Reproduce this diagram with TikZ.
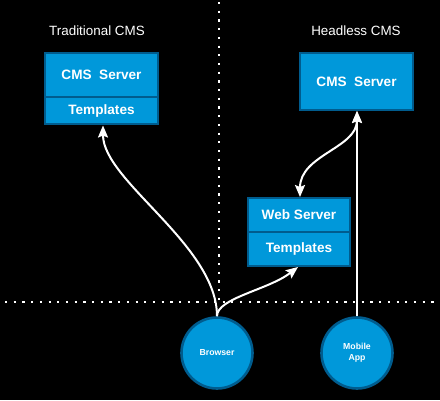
\documentclass[tikz,border=0pt]{standalone}
\usepackage{fontspec}
\setmainfont{Liberation Sans}
\usetikzlibrary{arrows.meta}
\definecolor{boxfill}{RGB}{0,152,218}
\definecolor{boxline}{RGB}{0,92,142}
\tikzset{
  blockbox/.style={draw=boxline, fill=boxfill, line width=2.2pt, rectangle, inner sep=0pt,
    text=white, font=\bfseries\fontsize{13.6}{15}\selectfont},
  roundbox/.style={draw=boxline, fill=boxfill, line width=2.6pt, circle, inner sep=0pt,
    minimum size=71pt, text=white, align=center, font=\bfseries\fontsize{8.7}{10.7}\selectfont},
  titletext/.style={text=white, font=\fontsize{13.4}{15}\selectfont, inner sep=0pt},
  flow/.style={draw=white, line width=2pt, -{Stealth[length=12pt,width=10pt,inset=2pt]}},
  dotline/.style={draw=white, line width=2.2pt, dash pattern=on 2.2pt off 6.5pt}
}
\begin{document}
\begin{tikzpicture}[x=1pt,y=-1pt]
\useasboundingbox (0,0) rectangle (440,400);
\fill[black] (0,0) rectangle (440,400);
% dotted separators
\coordinate (hl) at (5,302);
\coordinate (hr) at (437,302);
\coordinate (vt) at (219,2);
\coordinate (vb) at (219,302);
\draw[dotline] (hl) -- (hr);
\draw[dotline] (vt) -- (vb);
% titles
\node[titletext] (t1) at (97,31) {Traditional CMS};
\node[titletext] (t2) at (356,31) {Headless CMS};
% traditional
\node[blockbox, minimum width=113pt, minimum height=44pt] (lcms) at (101.5,75) {CMS\ \ Server};
\node[blockbox, minimum width=113pt, minimum height=27pt] (ltpl) at (101.5,110.5) {Templates};
% headless
\node[blockbox, minimum width=113pt, minimum height=57pt] (rcms) at (356.5,81.5) {CMS\ \ Server};
\node[blockbox, minimum width=102pt, minimum height=34pt] (web) at (299,215) {Web Server};
\node[blockbox, minimum width=102pt, minimum height=34pt] (wtpl) at (299,249) {Templates};
% clients
\node[roundbox] (browser) at (217,353) {Browser};
\node[roundbox] (mobile) at (357,353) {Mobile\\App};
% connectors
\coordinate (ltplin) at (103,125.5);
\coordinate (wtplin) at (298,267);
\coordinate (rcmsout) at (357,111);
\coordinate (webin) at (300,197);
\draw[flow] (browser.north) .. controls (217,245) and (103,181) .. (ltplin);
\draw[flow] (browser.north) .. controls (217,298) and (268,290) .. (wtplin);
\draw[flow, {Stealth[length=12pt,width=10pt,inset=2pt]}-{Stealth[length=12pt,width=10pt,inset=2pt]}] (rcmsout) .. controls (357,148) and (300,155) .. (webin);
\draw[flow] (mobile.north) -- (rcmsout);
\end{tikzpicture}
\end{document}
